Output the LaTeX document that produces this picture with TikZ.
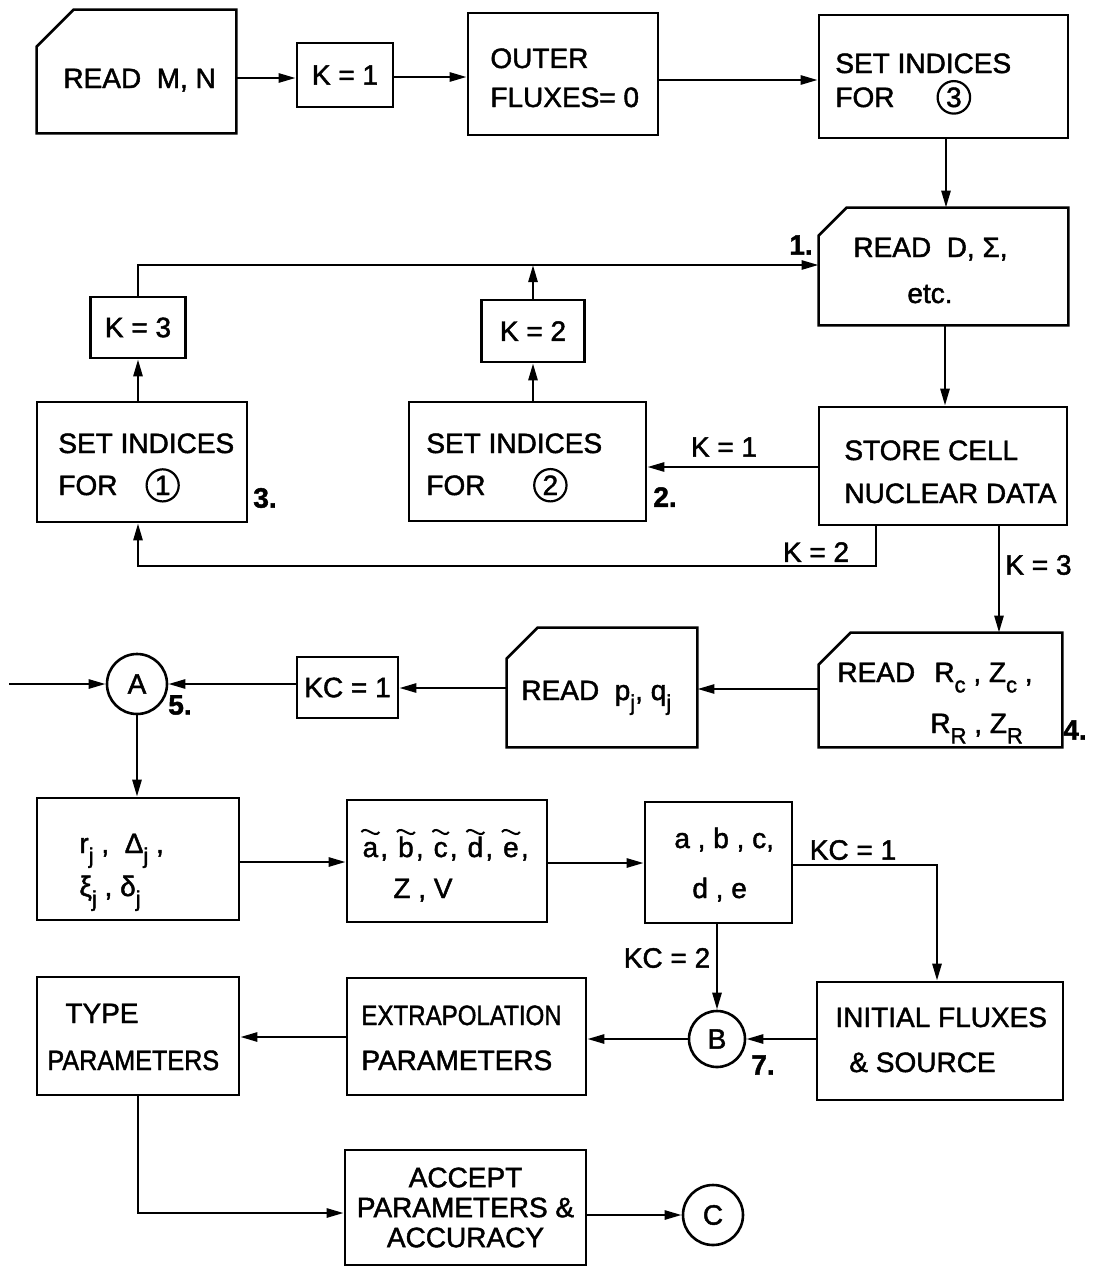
\documentclass[tikz,border=0pt]{standalone}
\usepackage{fontspec}
\usepackage{graphicx}
\setmainfont{Liberation Sans}[FakeBold=1.6]
\usetikzlibrary{arrows.meta,calc}
\newcommand{\cnum}[1]{\tikz[baseline=(cn.base)]\node[draw,circle,line width=1.1pt,inner sep=1.3pt](cn){#1};}
\newcommand{\tld}[1]{\tikz[baseline=(tt.base)]{\node[inner sep=0pt](tt){#1};\draw[line width=1pt] ($(tt.base west)+(-0.4pt,12.5pt)$) .. controls +(2.6pt,3.6pt) and +(-2.6pt,-3.6pt) .. ($(tt.base east)+(0.4pt,12.5pt)$);}}
\newcommand{\sbs}[1]{\raisebox{-0.7ex}{\fontsize{11}{11}\selectfont #1}}
\newcommand{\cardpath}[2]{\draw[conn] (#1.south west) -- ($(#1.north west)+(0,#2)$) -- ($(#1.north west)+(#2,0)$) -- (#1.north east) -- (#1.south east) -- cycle;}
\begin{document}
\begin{tikzpicture}[x=0.5pt,y=-0.5pt,
  every node/.style={font=\fontsize{14}{15}\selectfont},
  box/.style={draw,line width=1.3pt,rectangle,inner sep=0pt},
  cardbox/.style={rectangle,inner sep=0pt},
  txt/.style={anchor=base west,inner sep=0pt},
  lbl/.style={inner sep=0pt},
  num/.style={inner sep=0pt,font=\fontsize{14}{15}\selectfont\bfseries},
  conn/.style={line width=1.3pt},
  arr/.style={conn,-{Triangle[length=8.5pt,width=4.5pt]}},
  circ/.style={draw,circle,line width=1.3pt,minimum size=#1,inner sep=0pt}
]
\useasboundingbox (0,0) rectangle (1094,1269);
% row 1
\node[cardbox,minimum width=99.5pt,minimum height=61.5pt] (mn) at (136.5,71.5) {};
\cardpath{mn}{37}
\node[txt] (tmn) at (63,88) {READ\ \ M, N};
\node[box,minimum width=48pt,minimum height=32pt] (k1) at (345,75) {K = 1};
\node[box,minimum width=95pt,minimum height=61pt] (outer) at (563,74) {};
\node[txt] (touter1) at (490,68) {OUTER};
\node[txt] (touter2) at (490,107) {FLUXES= 0};
\node[box,minimum width=124.5pt,minimum height=61.5pt] (set3) at (943.5,76.5) {};
\node[txt] (tset3a) at (835,73) {SET INDICES};
\node[txt] (tset3b) at (835,107) {FOR\hspace{1.5em}\cnum{3}};
% row 2
\node[cardbox,minimum width=124.5pt,minimum height=58.5pt] (readD) at (943.5,266.5) {};
\cardpath{readD}{28}
\node[txt] (treadDa) at (853,257) {READ\ \ D, Σ,};
\node[txt] (treadDb) at (907,303) {etc.};
\node[box,minimum width=47.5pt,minimum height=30.5pt] (k3) at (138,327.5) {K = 3};
\node[box,minimum width=51.5pt,minimum height=31pt] (k2) at (533,331) {K = 2};
% row 3
\node[box,minimum width=105pt,minimum height=60pt] (set1) at (142,462) {};
\node[txt] (tset1a) at (58,453) {SET INDICES};
\node[txt] (tset1b) at (58,495) {FOR\hspace{1em}\cnum{1}};
\node[box,minimum width=118.5pt,minimum height=59.5pt] (set2) at (527.5,461.5) {};
\node[txt] (tset2a) at (426,453) {SET INDICES};
\node[txt] (tset2b) at (426,495) {FOR\hspace{1.7em}\cnum{2}};
\node[box,minimum width=124pt,minimum height=59pt] (store) at (943,466) {};
\node[txt] (tstorea) at (844,460) {STORE CELL};
\node[txt] (tstoreb) at (844,503) {NUCLEAR DATA};
% row 4
\node[cardbox,minimum width=121.5pt,minimum height=57pt] (readRc) at (940.5,690) {};
\cardpath{readRc}{32}
\node[txt] (trca) at (837,682) {READ};
\node[txt] (trcb) at (934,682) {R\sbs{c} , Z\sbs{c} ,};
\node[txt] (trcc) at (930,733) {R\sbs{R} , Z\sbs{R}};
\node[cardbox,minimum width=95pt,minimum height=59.5pt] (readpq) at (602,687.5) {};
\cardpath{readpq}{31}
\node[txt] (tpq) at (521,700) {READ\ \ p\sbs{j}, q\sbs{j}};
\node[box,minimum width=50.5pt,minimum height=30.5pt] (kc1) at (347.5,687.5) {KC = 1};
\node[circ=30pt] (A) at (137,684) {A};
\coordinate (ain) at (9,684);
% row 5
\node[box,minimum width=101pt,minimum height=61pt] (rj) at (138,859) {};
\node[txt] (trja) at (79,853) {r\sbs{j} ,\ \ Δ\sbs{j} ,};
\node[txt] (trjb) at (79,896) {ξ\sbs{j} ,\ δ\sbs{j}};
\node[box,minimum width=100pt,minimum height=61pt] (tl) at (447,861) {};
\node[txt] (ttla) at (360,857) {\tld{a}, \tld{b}, \tld{c}, \tld{d}, \tld{e},};
\node[txt] (ttlb) at (393,898) {Z , V};
\node[box,minimum width=73.5pt,minimum height=60.5pt] (abc) at (718.5,862.5) {};
\node[txt] (tabca) at (674,848) {a , b , c,};
\node[txt] (tabcb) at (692,898) {d , e};
% row 6
\node[box,minimum width=123pt,minimum height=59pt] (init) at (940,1041) {};
\node[txt] (tinita) at (835,1027) {INITIAL FLUXES};
\node[txt] (tinitb) at (849,1072) {\& SOURCE};
\node[circ=28pt] (B) at (717,1039) {B};
\node[box,minimum width=119.5pt,minimum height=58.5pt] (extrap) at (466.5,1036.5) {};
\node[txt] (texa) at (361,1025) {\scalebox{0.86}[1]{EXTRAPOLATION}};
\node[txt] (texb) at (361,1070) {PARAMETERS};
\node[box,minimum width=101pt,minimum height=59pt] (type) at (138,1036) {};
\node[txt] (ttya) at (65,1023) {TYPE};
\node[txt] (ttyb) at (47,1070) {\scalebox{0.9}[1]{PARAMETERS}};
% row 7
\node[box,minimum width=120.5pt,minimum height=57.5pt,align=center] (accept) at (465.5,1207.5) {ACCEPT\\PARAMETERS \&\\ACCURACY};
\node[circ=30pt] (C) at (713,1215) {C};
% connectors
\draw[arr] (mn.east |- 0,78) -- (k1.west |- 0,78);
\draw[arr] (k1.east |- 0,77) -- (outer.west |- 0,77);
\draw[arr] (outer.east |- 0,80) -- (set3.west |- 0,80);
\draw[arr] (set3.south -| 946,0) -- (readD.north -| 946,0);
\draw[arr] (k3.north) -- (k3.north |- 0,265) -- (readD.west |- 0,265);
\draw[arr] (k2.north) -- (k2.north |- 0,265);
\draw[arr] (set1.north -| k3.north) -- (k3.south);
\draw[arr] (set2.north -| k2.north) -- (k2.south);
\draw[arr] (readD.south -| 945,0) -- (store.north -| 945,0);
\draw[arr] (store.west |- 0,467) -- (set2.east |- 0,467);
\draw[arr] (store.south -| 876,0) -- (876,566) -- (138,566) -- (set1.south -| 138,0);
\draw[arr] (store.south -| 999,0) -- (readRc.north -| 999,0);
\draw[arr] (readRc.west |- 0,689) -- (readpq.east |- 0,689);
\draw[arr] (readpq.west |- 0,688) -- (kc1.east |- 0,688);
\draw[arr] (kc1.west |- A.east) -- (A.east);
\draw[arr] (ain) -- (A.west);
\draw[arr] (A.south) -- (rj.north -| A.south);
\draw[arr] (rj.east |- 0,862) -- (tl.west |- 0,862);
\draw[arr] (tl.east |- 0,863) -- (abc.west |- 0,863);
\draw[arr] (abc.east |- 0,865) -- (937,865) -- (init.north -| 937,0);
\draw[arr] (abc.south -| B.north) -- (B.north);
\draw[arr] (init.west |- B.east) -- (B.east);
\draw[arr] (B.west) -- (extrap.east |- B.west);
\draw[arr] (extrap.west |- 0,1037) -- (type.east |- 0,1037);
\draw[arr] (type.south) -- (type.south |- 0,1213) -- (accept.west |- 0,1213);
\draw[arr] (accept.east |- C.west) -- (C.west);
% connector labels
\node[lbl] (lk1) at (724,447) {K = 1};
\node[lbl] (lk2) at (816,552) {K = 2};
\node[lbl,anchor=west] (lk3) at (1005,565) {K = 3};
\node[lbl] (lkc1) at (853,850) {KC = 1};
\node[lbl] (lkc2) at (667,958) {KC = 2};
% numbers
\node[num] (n1) at (801,245) {1.};
\node[num] (n2) at (665,497) {2.};
\node[num] (n3) at (265,498) {3.};
\node[num] (n4) at (1075,730) {4.};
\node[num] (n5) at (180,705) {5.};
\node[num] (n7) at (763,1065) {7.};
\end{tikzpicture}
\end{document}
